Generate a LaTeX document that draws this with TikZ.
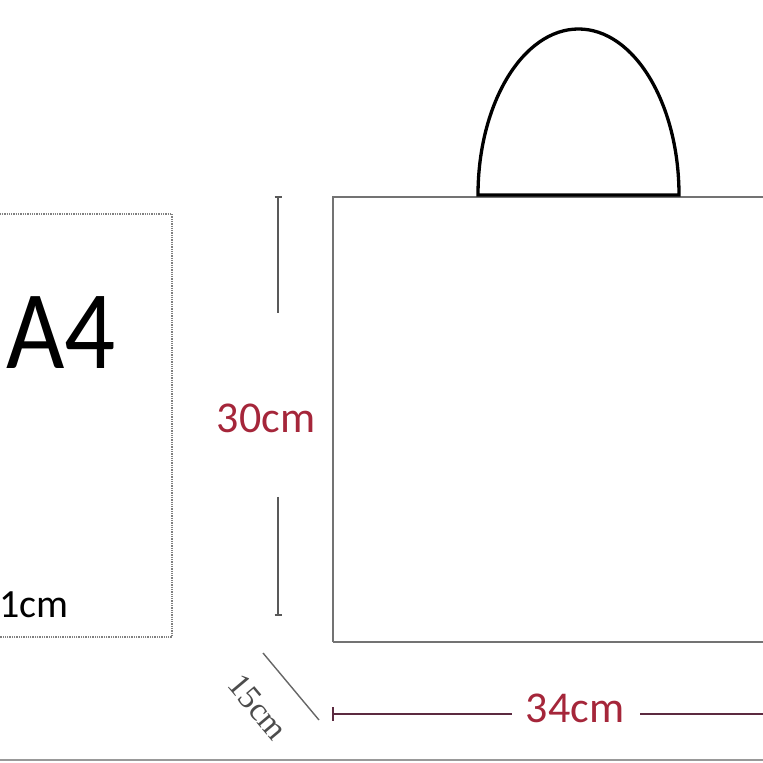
\documentclass[tikz,border=0pt]{standalone}
\usepackage{fontspec}
\setmainfont{Carlito}
\newfontfamily\dimserif{Liberation Serif}
\definecolor{BagRed}{RGB}{165,38,58}
\definecolor{DimPurple}{RGB}{92,42,64}
\tikzset{
	BagLine/.style={draw=black!55, line width=2pt},
	HandleLine/.style={draw=black, line width=3.3pt},
	DimLine/.style={draw=black!65, line width=1.8pt},
	DimText/.style={text=BagRed, inner sep=0pt, font=\fontsize{44}{50}\selectfont}
}

\begin{document}
\begin{tikzpicture}[x=1pt, y=1pt]
		\useasboundingbox (0,0) rectangle (763,763);
		\clip (0,0) rectangle (763,763);
		\def\bl{333} % Left side of the bag
		\def\bb{121} % Bottom of the bag
		\def\bt{566} % Top of the bag

		% A4 sheet
		\draw[black!50, densely dotted, line width=1.3pt] (-5,549) -- (172,549) -- (172,126) -- (-5,126);
		\node[inner sep=0pt, xscale=0.9, transform shape, font=\fontsize{112}{120}\selectfont] (A4) at (61,430) {A4};
		\node[inner sep=0pt, anchor=east, font=\fontsize{40}{46}\selectfont] (Width21) at (69,158) {21cm};

		% Bag body
		\draw[BagLine] (\bl,\bb) -- (\bl,\bt) -- (770,\bt);
		\draw[BagLine] (\bl,\bb) -- (770,\bb);

		% Handle
		\draw[HandleLine] (478,\bt+2) arc[start angle=180, end angle=0, x radius=100.5, y radius=166] -- cycle;

		% Height
		\coordinate (HTop) at (278,\bt);
		\coordinate (HUp) at (278,450);
		\coordinate (HLow) at (278,266);
		\coordinate (HBot) at (278,148);
		\draw[DimLine] (HTop) -- (HUp);
		\draw[DimLine] (HLow) -- (HBot);
		\foreach \p in {HTop,HBot}
			\draw[DimLine] ([xshift=-3.5pt]\p) -- ([xshift=3.5pt]\p);
		\node[DimText] (Height) at (266,345) {30cm};

		% Width
		\coordinate (WLeft) at (\bl,49);
		\coordinate (WGapL) at (512,49);
		\coordinate (WGapR) at (640,49);
		\coordinate (WRight) at (770,49);
		\draw[DimPurple, line width=2.4pt] (WLeft) -- (WGapL);
		\draw[DimPurple, line width=2.4pt] (WGapR) -- (WRight);
		\draw[DimPurple, line width=2.4pt] ([yshift=-7pt]WLeft) -- ([yshift=7pt]WLeft);
		\node[DimText] (Width) at (575,55) {34cm};

		% Depth
		\coordinate (DTop) at (263,110);
		\coordinate (DBot) at (319,43);
		\draw[black!60, line width=1.4pt] (DTop) -- (DBot);
		\node[inner sep=0pt, rotate=-50, text=black!70, font=\dimserif\fontsize{33}{38}\selectfont] (Depth) at (258,56) {15cm};

		% Bottom edge
		\draw[black!40, line width=2pt] (0,3) -- (763,3);
	\end{tikzpicture}
\end{document}
